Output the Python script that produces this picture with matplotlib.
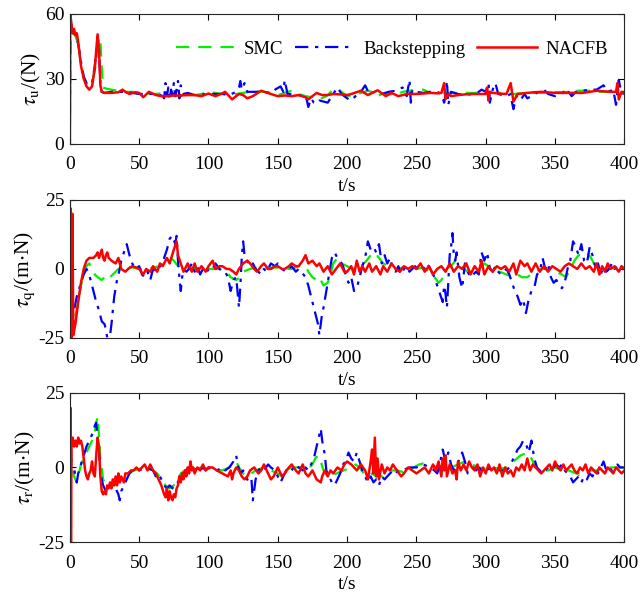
import numpy as np
import matplotlib.pyplot as plt

plt.rcParams['font.family'] = ['Liberation Serif', 'DejaVu Serif']
plt.rcParams['mathtext.fontset'] = 'stix'
plt.rcParams['font.size'] = 14
plt.rcParams['axes.unicode_minus'] = False

# tau_u panel, (t, value)
tu_smc = [(0,0),(0.3,57),(1,55),(2,51),(4,50),(6,46),(8,37),(10,31),(12,28),(14,27),(16,28),(18,34),(20,44),(22,48),(23,35),(24,26),(26,25.5),(30,25),(35,24.5),(40,24),(45,24),(50,23.5),(55,23.3),(60,23),(65,23.2),(70,23.5),(75,22.5),(80,22),(85,22.5),(90,22.5),(95,23),(100,24),(105,23.5),(110,23),(115,23),(120,23),(125,23.5),(130,24),(135,24.2),(140,24),(145,23.5),(150,22.5),(155,23.5),(160,24.5),(165,23),(170,22),(175,21.5),(180,20.5),(185,22),(190,25),(193,25.5),(196,24),(200,22),(205,22.5),(210,23.5),(215,24.5),(220,23.5),(222,22),(225,23),(230,23),(235,22.5),(240,24),(245,24.5),(250,25),(255,25),(260,23.5),(270,23.5),(280,23.5),(290,23.5),(300,23.5),(310,23.5),(320,23),(330,23.5),(340,23.5),(350,23.8),(360,24),(365,24.5),(370,24.5),(375,24.5),(380,24),(390,24),(400,24)]
tu_back = [(0,0),(0.3,58),(1,55),(2,52),(4,50),(6,46),(8,38),(10,31),(12,28),(14,27.5),(16,28),(18,36),(20,49.5),(21,44),(22,28),(23,24),(25,23.5),(30,24),(40,24),(50,23),(55,23),(60,23),(65,22.5),(67,22),(68,21),(69,28),(70,22),(71,26),(72,20),(73,25),(74,23),(75,28),(76,22),(77,25),(78,29),(79,21),(80,27),(82,23),(85,23.5),(90,22.5),(100,23),(110,23),(115,22.5),(120,24),(122,26),(123,29),(124,25),(126,28),(128,24),(135,24),(145,23.5),(148,25),(152,26.5),(154,24),(155,29.5),(157,23),(160,23),(165,22.5),(170,22),(171,20),(172,17),(174,21),(176,19),(178,18.5),(180,20),(183,19.5),(186,19),(188,21),(190,23),(193,26),(196,23),(200,21),(203,20),(206,22),(210,24),(213,27),(216,23),(220,24),(225,23),(230,24),(235,24.5),(240,26),(243,22),(245,29.5),(246,19),(247,25),(250,24),(255,23.5),(260,24),(265,24),(268,23),(270,19),(271,22),(272,29),(273,18),(275,24),(280,23),(285,22.5),(290,23),(295,24),(297,25),(300,24),(302,28),(303,19),(305,25),(307,28),(309,23),(315,22),(318,23),(319,19),(320,16),(322,22),(325,20),(328,23),(330,21),(333,22),(338,24),(342,25),(345,23),(350,22),(355,23),(358,25.5),(362,22),(365,24),(370,24.5),(375,25),(380,25),(385,27),(388,24),(392,25),(394,18),(396,29.5),(398,23),(400,24)]
tu_nacfb = [(0,0),(0.3,60),(1,56),(2,51),(3,53),(4,50),(5,51),(6,47),(8,36),(10,30),(12,26.5),(14,25),(16,26.5),(18,35),(19,43),(20,50.5),(21,44),(22,27),(23,24),(25,23.5),(30,23.5),(35,23.8),(38,25),(40,24),(43,23),(47,23.8),(50,23.5),(53,21.5),(57,24),(62,22.5),(66,22),(70,22),(75,22.3),(80,22.3),(85,22.5),(90,22.5),(95,22),(100,23.2),(105,22),(110,23.3),(112,24),(117,20.5),(122,23),(125,22.5),(128,21),(132,22),(138,24.5),(145,23),(150,22),(155,22.3),(160,22),(165,22.5),(170,21.5),(172,20.5),(178,23.5),(182,22.5),(186,22.5),(190,23),(195,22.8),(200,22.5),(203,23),(210,24.5),(215,22.5),(222,24.7),(228,22),(232,23.5),(237,22),(243,23),(250,23),(255,23.2),(260,23.5),(265,23.3),(268,23.5),(270,28),(271,20.6),(273,23),(275,22),(280,22.5),(285,22.8),(290,23),(295,23),(300,23),(301,26),(302,20),(303,24),(305,23.5),(310,23.2),(315,23),(318,28),(320,19.5),(323,23),(330,23.5),(335,23.8),(340,24),(350,23.5),(360,23.5),(370,23.5),(380,24.5),(390,24),(394,24),(395,28),(396,20.5),(398,24),(400,23)]

# tau_q panel
tq_smc = [(0,-25),(2,-22),(4,-17),(6,-12),(8,-6),(10,-2),(12,1),(14,2),(16,0),(18,-2),(20,-3),(23,-4),(25,-3),(27,-2),(29,-3),(31,-2),(33,-1),(35,0),(40,1),(45,0.5),(50,0),(55,0),(60,0.5),(65,1),(70,3),(73,4),(75,3),(78,1),(80,0),(85,0.5),(90,0),(95,-1),(100,0),(105,0),(110,0),(113,-1),(116,-3),(120,-4),(123,-3),(125,-1),(130,0),(135,0.5),(140,0),(145,0.5),(150,0.5),(155,0),(160,0),(165,1),(170,1),(172,-1),(175,-3),(178,-4),(180,-3),(183,-6),(186,-5),(188,-2),(190,2),(193,4),(196,2),(200,1),(205,0),(210,1),(214,3),(217,5),(220,6),(223,4),(226,2),(230,1),(235,0),(240,0.5),(245,0),(250,0),(255,0.5),(260,-1),(263,-3),(266,-5),(268,-4),(270,-2),(272,0),(275,1),(278,3),(281,2),(284,0),(287,-1),(290,-1),(293,0),(296,0),(299,2),(302,1),(306,-1),(310,-1),(315,-2),(320,-3),(323,-2),(326,-3),(330,-3),(335,-1),(340,0),(345,0),(350,-1),(355,-2),(358,-3),(361,0),(364,3),(367,5),(370,5),(373,6),(376,4),(379,1),(382,0),(385,0),(390,0.5),(395,0),(400,0.5)]
tq_back = [(0,-25),(1,-20),(3,-15),(5,-10),(8,-5),(10,-2),(12,0),(13,-1),(15,-4),(17,-8),(19,-12),(21,-15),(23,-19),(25,-20),(26,-22),(27,-25),(29,-24),(30,-20),(31,-15),(32,-10),(34,-4),(35,-2),(36,0),(37,3),(39,6),(41,9),(43,5),(45,2),(47,0),(50,1),(52,-2),(54,-3),(56,-1),(58,-4),(60,0),(62,-1),(64,0),(66,2),(68,4),(70,7),(72,11),(74,12),(76,9),(77,12),(78,3),(79,-3),(80,-8),(81,-3),(82,0),(84,-1),(86,0),(88,2),(90,-1),(92,1),(94,-2),(96,0),(98,1),(100,-1),(103,0),(105,2),(108,0),(110,-1),(112,-1),(114,-3),(116,-8),(118,-4),(120,-3),(122,-14),(123,-6),(124,4),(125,10),(126,5),(128,3),(130,1),(132,2),(134,0),(136,-1),(138,-2),(140,0),(142,-1),(145,2),(148,1),(150,2),(153,0),(156,-1),(158,0),(160,1),(163,-1),(165,0),(167,-1),(170,-3),(172,-6),(174,-10),(176,-14),(178,-18),(179,-20),(180,-24),(182,-16),(183,-14),(185,-8),(187,-2),(189,4),(191,6),(193,4),(195,3),(197,1),(199,-2),(201,-5),(203,-3),(205,-8),(207,-7),(209,-3),(211,1),(213,4),(215,10),(217,7),(219,8),(221,6),(223,9),(225,2),(227,5),(229,2),(231,4),(233,0),(235,-1),(237,1),(239,-2),(241,0),(243,1),(245,-1),(247,0),(249,1),(251,0),(253,1),(255,0),(257,2),(259,1),(261,-1),(263,-3),(265,-6),(267,-9),(269,-12),(270,-6),(271,-9),(272,-14),(273,-5),(274,5),(275,8),(276,13),(277,5),(278,3),(279,6),(281,-3),(283,-7),(285,2),(287,-1),(289,-3),(291,-2),(293,-1),(295,-2),(297,6),(299,3),(301,6),(303,0),(305,-1),(307,1),(309,-1),(311,-2),(313,-1),(315,0),(317,-2),(319,-5),(321,-8),(323,-10),(325,-13),(327,-11),(329,-16),(331,-11),(333,-8),(335,-7),(337,-2),(339,-1),(341,4),(343,0),(345,2),(347,-3),(349,-5),(351,-4),(353,-6),(355,-7),(357,-5),(359,0),(361,3),(363,10),(365,8),(367,5),(369,9),(371,3),(373,2),(375,8),(377,5),(379,1),(381,2),(383,-2),(385,1),(387,-1),(389,0),(391,2),(393,0),(395,1),(397,0),(400,0)]
tq_nacfb = [(0,-25),(0.5,22),(1,-25),(1.8,20),(2.5,-24),(4,-20),(6,-12),(8,-5),(10,0),(12,3),(14,4),(17,4),(19,5),(20,6),(21,4),(22,5.5),(23,7),(24,4),(25,3),(26,5),(27,6),(28,4),(30,3),(33,2),(35,4),(37,0),(40,-1),(42,0),(45,1),(48,0.5),(50,0),(53,-2),(55,0),(58,-1),(60,1),(63,-1),(65,2),(67,1),(70,4),(72,2),(75,7),(77,10),(78,5),(80,2),(82,-1),(85,2),(88,-1),(90,2),(92,-1),(95,1),(98,-1),(100,1),(103,3),(105,0),(108,1),(110,1),(113,0),(115,0),(118,-1),(120,-2),(122,0),(125,2),(128,3),(130,2),(133,0),(135,-1),(138,1),(140,2),(143,0),(145,0),(148,1),(150,1),(153,0),(155,0),(158,1),(160,2),(163,1),(165,1),(168,3),(170,5),(172,2),(175,3),(178,1),(180,2),(183,-1),(186,1),(189,-2),(192,0),(195,2),(198,-1),(200,-1),(203,1),(205,-2),(207,3),(209,-1),(211,1),(213,-1),(216,2),(218,-1),(221,1),(224,-2),(226,1),(229,-1),(232,2),(235,0),(238,-1),(241,1),(244,0),(247,1),(250,0),(253,2),(256,-1),(259,1),(262,-2),(265,0),(268,1),(271,-1),(274,2),(277,-1),(280,1),(283,0),(286,2),(289,-2),(292,1),(295,-1),(297,3),(299,-2),(302,1),(305,-1),(308,1),(311,0),(314,1),(317,-1),(320,2),(322,-2),(325,3),(328,1),(330,2),(333,-1),(336,2),(339,-1),(342,1),(345,-1),(348,1),(351,0),(354,-1),(357,1),(360,2),(363,1),(366,0),(369,2),(372,0),(375,1),(378,-1),(380,2),(382,-2),(384,1),(386,-1),(388,2),(390,0),(393,1),(396,-1),(398,1),(400,0)]

# tau_r panel
tr_smc = [(0,-25),(0.4,13),(1,3),(2,0),(3,-3),(4,-4),(5,-5),(6,-3),(7,-1),(8,1),(10,3),(12,5),(14,7),(16,9),(18,12),(19,15),(20,17),(21,11),(22,3),(24,-4),(26,-6),(30,-6),(32,-6),(35,-5),(38,-4),(40,-3),(43,-2),(46,-1),(50,-0.5),(55,0),(60,-1),(63,-2),(66,-4),(69,-6),(72,-7),(75,-6),(78,-4),(80,-2),(83,-1),(86,0),(90,-0.5),(95,0),(100,-0.5),(105,-0.5),(110,-1),(115,0),(118,1),(120,2),(122,0),(125,-2),(128,-3),(131,-2),(134,-1),(137,-0.5),(140,0),(145,-1),(150,-2),(153,-3),(156,-1),(160,0),(165,0),(170,0.5),(173,0),(175,1),(177,3),(179,4),(181,2),(183,-1),(186,-3),(190,-2.5),(195,-1.5),(200,-0.5),(203,0),(206,1),(209,0),(212,-2),(215,-3),(218,-2),(221,-3),(225,-3),(228,-2),(232,-1),(236,-1),(240,-1.5),(244,-1),(248,0),(252,1),(256,1.5),(260,1),(265,0),(270,1),(275,0),(280,1),(285,2),(290,1),(295,0),(300,-0.5),(305,0),(310,-0.5),(315,0),(320,2),(325,4),(330,5),(333,3),(336,0),(340,-1),(345,-1),(350,0),(355,-1),(360,-1),(365,-2),(370,-2),(375,-1),(380,-1),(385,0),(390,0),(395,0),(400,0)]
tr_back = [(0,-25),(0.5,15),(1,0),(3,0),(4,-3),(5,-5),(6,-2),(8,1),(10,4),(12,7),(14,9),(15,10),(17,12),(18,14),(19,15),(20,10),(21,5),(22,-2),(24,-6),(26,-8),(28,-7),(30,-6),(33,-7),(35,-9),(36,-11),(37,-8),(39,-6),(41,-4),(43,-2),(45,-1),(50,-1),(55,0),(60,-1),(62,-3),(64,-2),(66,-4),(68,-6),(70,-7),(72,-6),(74,-7),(76,-5),(78,-5),(80,-3),(82,-2),(84,-1),(86,0),(88,1),(90,-1),(92,0),(94,-1),(96,0),(98,-1),(100,0),(103,0),(106,-1),(110,0),(112,-1),(115,0),(118,2),(120,4),(121,1),(123,-2),(125,-1),(127,-3),(129,-5),(131,-4),(132,-11),(134,-4),(136,-1),(138,0),(140,-1),(143,1),(145,0),(148,-1),(150,-3),(152,-5),(154,-3),(156,-1),(158,0),(160,-1),(163,1),(165,0),(168,-1),(170,0),(172,-1),(174,1),(176,3),(178,7),(180,11),(181,13),(182,9),(184,4),(185,-1),(187,-3),(189,-5),(191,-6),(193,-4),(195,-2),(197,1),(199,2),(201,5),(203,3),(205,2),(207,5),(209,2),(211,-1),(213,-3),(215,-5),(217,-3),(219,-5),(221,-4),(223,-6),(225,-3),(227,-4),(229,-3),(231,-2),(233,-1),(235,-2),(237,-1),(240,-1),(245,0),(250,0),(255,1),(260,0),(263,-1),(265,-2),(267,1),(268,4),(269,6),(271,2),(273,5),(275,1),(277,-1),(279,0),(281,3),(283,5),(285,2),(287,-2),(289,-1),(291,0),(293,-1),(295,0),(297,-1),(300,-1),(305,0),(310,-1),(315,-1),(317,0),(319,2),(321,4),(323,6),(325,7),(327,9),(329,8),(331,5),(333,9),(335,3),(337,0),(339,-1),(341,-2),(343,-1),(345,0),(347,-1),(349,0),(351,1),(353,0),(355,1),(357,-1),(359,-2),(361,-3),(363,-5),(365,-4),(367,-3),(369,-5),(371,-3),(373,-4),(375,-2),(377,-3),(379,-1),(381,-2),(383,0),(385,2),(387,-1),(389,0),(391,-1),(393,0),(395,1),(397,0),(400,0)]
tr_nacfb = [(0,-25),(0.4,20),(0.8,-25),(1.2,8),(2,10),(3,7),(4,9),(5,7),(6,10),(7,8),(8,9),(9,7),(10,3),(11,-1),(12,-3),(13,-4),(14,-2),(15,-1),(16,2),(17,-2),(18,-3),(19,4),(20,10),(21,7),(22,-3),(23,-8),(24,-9),(25,-8),(26,-9),(27,-6),(28,-7),(29,-5),(30,-7),(31,-4),(32,-6),(33,-3),(34,-6),(35,-2),(36,-5),(37,-3),(38,-4),(39,-5),(40,-2),(42,-2),(44,-1),(46,-1),(48,0),(50,-1),(52,0),(54,1),(56,-1),(58,1),(60,-1),(62,-2),(64,-4),(66,-6),(68,-9),(69,-10),(70,-7),(71,-11),(72,-8),(73,-10),(74,-11),(75,-9),(76,-10),(77,-7),(78,-6),(79,-3),(80,-5),(81,-2),(82,-4),(83,-1),(84,-3),(85,0),(86,-2),(87,2),(88,-1),(89,0),(90,-2),(92,0),(94,-1),(96,1),(98,-1),(100,0),(103,0),(106,-1),(110,-2),(114,-3),(116,-1),(117,-4),(118,-2),(120,0),(122,-1),(124,-3),(126,-4),(128,-3),(130,-1),(133,0),(136,-2),(138,-1),(140,1),(142,-1),(145,-4),(147,-3),(150,0),(153,-3),(155,-2),(158,0),(160,1),(163,-1),(165,-2),(168,1),(170,-2),(172,-3),(175,-1),(178,-4),(181,-5),(182,-3),(184,-1),(186,-3),(188,-1),(190,-2),(193,0),(196,-1),(198,1),(200,2),(203,1),(205,0),(207,-1),(210,1),(213,-1),(215,-4),(217,2),(218,6),(219,-2),(220,10),(221,-3),(222,3),(223,-4),(225,1),(227,-2),(229,0),(231,-1),(233,1),(236,-1),(239,-3),(241,-2),(244,0),(247,-1),(250,-2),(253,-1),(256,0),(259,-2),(262,1),(264,-1),(266,2),(268,-3),(269,3),(270,-1),(271,4),(272,-3),(274,1),(276,-2),(278,-1),(279,-4),(280,2),(282,-1),(284,1),(286,-1),(288,2),(290,0),(292,-1),(294,1),(296,-3),(298,0),(300,-2),(302,1),(304,-1),(306,0),(308,-2),(310,1),(312,-3),(314,0),(316,-2),(318,-1),(320,-3),(322,0),(324,-1),(326,1),(328,-1),(330,3),(332,-1),(334,1),(336,0),(338,-1),(340,-2),(342,-1),(344,0),(346,1),(348,-1),(350,2),(352,0),(354,-1),(356,1),(358,-1),(360,0),(362,1),(364,-1),(366,-2),(368,0),(370,-1),(372,1),(374,-2),(376,0),(378,-1),(380,-2),(382,0),(384,-1),(386,-2),(388,0),(390,-1),(392,-2),(394,0),(396,-1),(398,-2),(400,-1)]

xticks = [0, 50, 100, 150, 200, 250, 300, 350, 400]
labels = ['SMC', 'Backstepping', 'NACFB']
ylabels = [r'$\tau_{\mathrm{u}}$/(N)', r'$\tau_{\mathrm{q}}$/(m$\cdot$N)', r'$\tau_{\mathrm{r}}$/(m$\cdot$N)']

fig = plt.figure(figsize=(6.41, 5.97), dpi=100)
rects = [[0.109, 0.759, 0.865, 0.218],
         [0.109, 0.434, 0.865, 0.231],
         [0.109, 0.092, 0.865, 0.250]]
panels = [(tu_smc, tu_back, tu_nacfb, (0, 60), [0, 30, 60]),
          (tq_smc, tq_back, tq_nacfb, (-25, 25), [-25, 0, 25]),
          (tr_smc, tr_back, tr_nacfb, (-25, 25), [-25, 0, 25])]

for i, (smc, back, nacfb, ylim, yticks) in enumerate(panels):
    ax = fig.add_axes(rects[i])
    t, y = np.array(smc).T
    ax.plot(t, y, color='#00f000', lw=1.6, dashes=(6, 4), label=labels[0])
    t, y = np.array(back).T
    ax.plot(t, y, color='#0000ff', lw=1.6, dashes=(6, 3, 1.5, 3), label=labels[1])
    t, y = np.array(nacfb).T
    ax.plot(t, y, color='#ff0000', lw=1.8, label=labels[2])
    ax.set_xlim(0, 400)
    ax.set_ylim(*ylim)
    ax.set_xticks(xticks)
    ax.set_yticks(yticks)
    ax.tick_params(axis='x', direction='in', top=True, length=4.5, width=0.8,
                   labelsize=14, pad=9)
    ax.tick_params(axis='y', direction='in', right=True, length=4.5, width=0.8,
                   labelsize=14, pad=4)
    for s in ax.spines.values():
        s.set_linewidth(0.8)
        s.set_color('#262626')
    ax.set_xlabel('t/s', fontsize=14, labelpad=3)
    ax.set_ylabel(ylabels[i], fontsize=15.5, labelpad=1)
    if i == 0:
        ax.legend(loc='upper right', bbox_to_anchor=(0.99, 0.88), ncol=3,
                  frameon=False, fontsize=13.5, handlelength=3.2,
                  handletextpad=0.45, columnspacing=0.6, borderaxespad=0.2)

fig.savefig('out.png', dpi=100)
